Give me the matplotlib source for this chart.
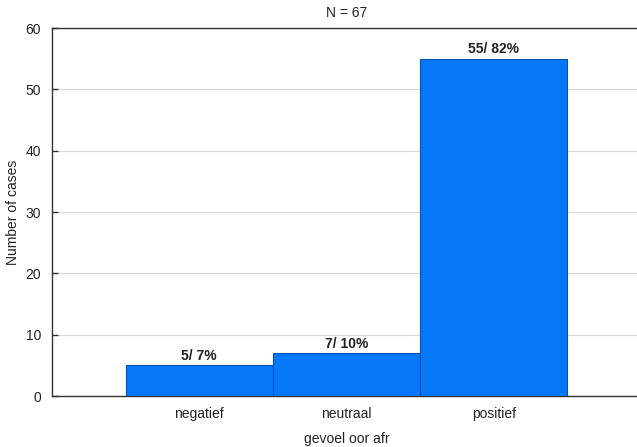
import matplotlib.pyplot as plt
import numpy as np

categories = ['negatief', 'neutraal', 'positief']
counts = [5, 7, 55]
bar_labels = ['5/ 7%', '7/ 10%', '55/ 82%']
n_total = 67

plt.rcParams['font.family'] = ['Liberation Sans', 'DejaVu Sans']

fig = plt.figure(figsize=(6.37, 4.47), dpi=100, facecolor='white')
ax = fig.add_axes([52 / 637, 51 / 447, 589 / 637, 368 / 447])

x = np.arange(len(categories))
ax.bar(x, counts, width=1.0, color='#0578fa', edgecolor='#0a4fb8', linewidth=0.8, zorder=3)

for xi, c, lab in zip(x, counts, bar_labels):
    ax.text(xi, c + 0.4, lab, ha='center', va='bottom', fontsize=10,
            fontweight='bold', color='#222222', zorder=4)

ax.set_xlim(-1, 3)
ax.set_ylim(0, 60)
ax.set_yticks(range(0, 61, 10))
ax.set_xticks(x)
ax.set_xticklabels(categories)
ax.yaxis.grid(True, color='#d9d9d9', linewidth=0.8, zorder=0)
ax.set_axisbelow(True)

for s in ['left', 'bottom', 'top']:
    ax.spines[s].set_color('#333333')
    ax.spines[s].set_linewidth(1.0)
ax.spines['right'].set_visible(False)

ax.tick_params(axis='both', direction='in', length=4, width=1, colors='#333333',
               labelsize=10, labelcolor='#222222')
ax.tick_params(axis='x', pad=8)
ax.tick_params(axis='y', pad=8)

ax.set_xlabel('gevoel oor afr', fontsize=10, color='#222222', labelpad=8)
ax.set_ylabel('Number of cases', fontsize=10, color='#222222')
ax.yaxis.set_label_coords(-32 / 589, 0.5)
ax.set_title(f'N = {n_total}', fontsize=10, color='#222222', pad=8)

fig.savefig('out.png', dpi=100)
